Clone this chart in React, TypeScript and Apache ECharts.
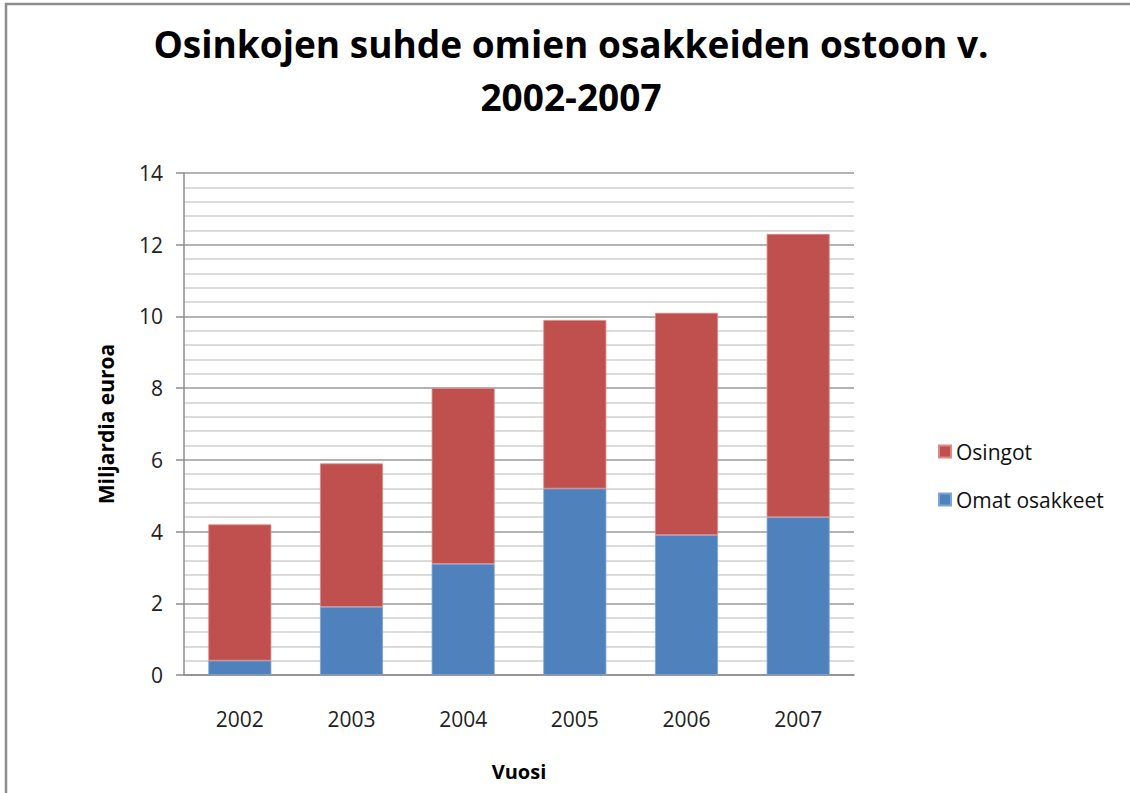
import React, { useEffect, useRef } from "react";
import * as echarts from "echarts";

const years = ["2002", "2003", "2004", "2005", "2006", "2007"];
const omatOsakkeet = [0.4, 1.9, 3.1, 5.2, 3.9, 4.4];
const osingot = [3.8, 4.0, 4.9, 4.7, 6.2, 7.9];
const titleText = "Osinkojen suhde omien osakkeiden ostoon v.\n2002-2007";
const FONT = "'Open Sans', sans-serif";

export default function App() {
  const ref = useRef<HTMLDivElement>(null);
  useEffect(() => {
    if (!ref.current) return;
    const chart = echarts.init(ref.current, undefined, { renderer: "svg" });
    chart.setOption({
      animation: false,
      backgroundColor: "#ffffff",
      textStyle: { fontFamily: FONT },
      graphic: [
        {
          type: "rect",
          shape: { x: 6, y: 4, width: 1140, height: 810 },
          style: { fill: "none", stroke: "#8c8c8c", lineWidth: 2.5 },
          silent: true,
        },
      ],
      title: {
        text: titleText,
        left: 566,
        textAlign: "center",
        top: 12,
        textStyle: {
          fontFamily: FONT,
          fontSize: 37,
          fontWeight: "bold",
          color: "#000",
          lineHeight: 53,
        },
      },
      legend: {
        orient: "vertical",
        left: 933,
        top: 436,
        itemGap: 27,
        itemWidth: 12,
        itemHeight: 12,
        icon: "rect",
        data: ["Osingot", "Omat osakkeet"],
        textStyle: { fontFamily: FONT, fontSize: 21, color: "#111", padding: [0, 0, 0, 0] },
      },
      grid: { left: 184, width: 670, top: 173, height: 502, containLabel: false },
      xAxis: {
        type: "category",
        data: years,
        name: "Vuosi",
        nameLocation: "middle",
        nameGap: 86,
        nameTextStyle: { fontFamily: FONT, fontSize: 20, fontWeight: "bold", color: "#000" },
        axisLine: { lineStyle: { color: "#8c8c8c", width: 1.5 } },
        axisTick: { show: false },
        axisLabel: { fontFamily: FONT, fontSize: 21, color: "#222", margin: 33 },
      },
      yAxis: {
        type: "value",
        min: 0,
        max: 14,
        interval: 2,
        name: "Miljardia euroa",
        nameLocation: "middle",
        nameGap: 68,
        nameTextStyle: { fontFamily: FONT, fontSize: 21, fontWeight: "bold", color: "#000" },
        axisLine: { show: true, lineStyle: { color: "#8c8c8c", width: 1.5 } },
        axisTick: { show: true, length: 8, lineStyle: { color: "#8c8c8c", width: 1.5 } },
        axisLabel: { fontFamily: FONT, fontSize: 21, color: "#222", margin: 21 },
        splitLine: { show: true, lineStyle: { color: "#9a9a9a", width: 1.5 } },
        minorTick: { show: true, splitNumber: 5, length: 0 },
        minorSplitLine: { show: true, lineStyle: { color: "#cfcfcf", width: 1.5 } },
      },
      series: [
        {
          name: "Omat osakkeet",
          type: "bar",
          stack: "total",
          data: omatOsakkeet,
          barWidth: 63,
          itemStyle: { color: "#4F81BD", borderColor: "#7fa3d4", borderWidth: 0.8 },
        },
        {
          name: "Osingot",
          type: "bar",
          stack: "total",
          data: osingot,
          barWidth: 63,
          itemStyle: { color: "#C0504D", borderColor: "#dc8a88", borderWidth: 0.8 },
        },
      ],
    });
    return () => chart.dispose();
  }, []);
  return (
    <div
      ref={ref}
      style={{ position: "fixed", left: 0, top: 0, width: 1130, height: 793 }}
    />
  );
}
